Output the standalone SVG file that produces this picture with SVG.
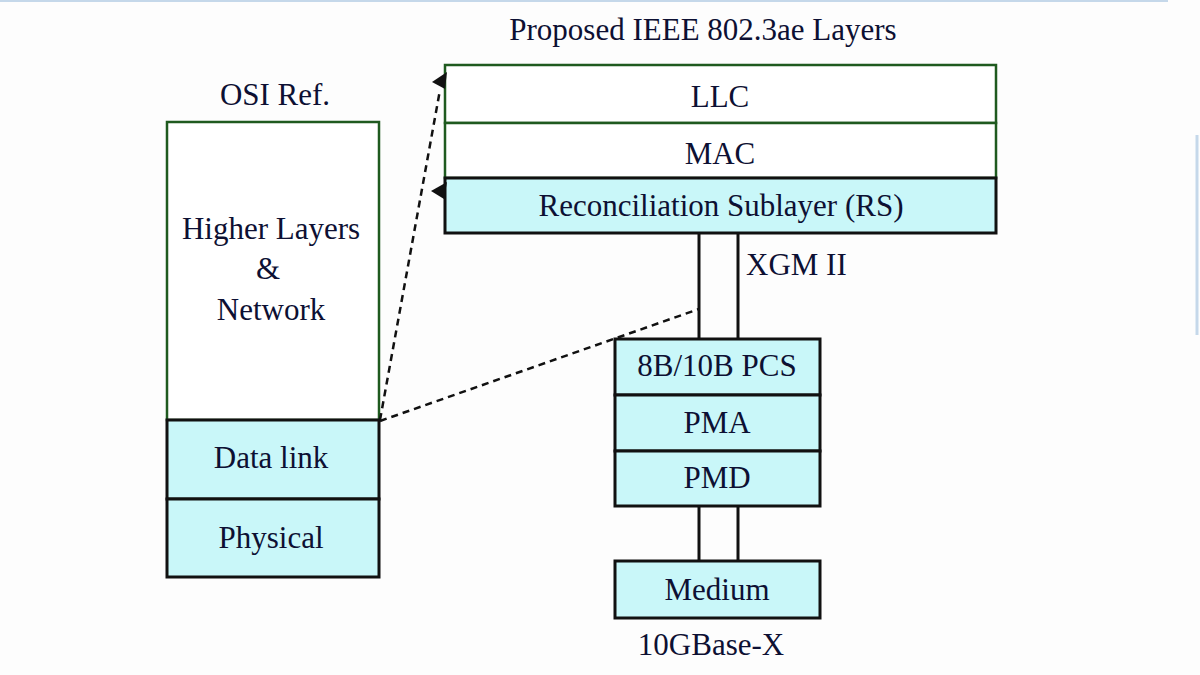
<svg xmlns="http://www.w3.org/2000/svg" width="1200" height="675" viewBox="0 0 1200 675">
<style>
text{font-family:"Liberation Serif","Times New Roman",serif;font-size:31px;fill:#0d1033;text-anchor:middle}
.g{fill:#ffffff;stroke:#1f5a1f;stroke-width:2.5}
.c{fill:#c9f7f9;stroke:#111111;stroke-width:3}
.ln{stroke:#111111;stroke-width:3;fill:none}
.d{stroke:#111111;stroke-width:2.5;fill:none;stroke-dasharray:7 5}
</style>
<rect width="1200" height="675" fill="#fdfdfd"/>
<line x1="0" y1="1" x2="1168" y2="1" stroke="#c5d8ea" stroke-width="2"/>
<line x1="1197" y1="135" x2="1197" y2="335" stroke="#c5d8ea" stroke-width="3"/>
<text x="703" y="40">Proposed IEEE 802.3ae Layers</text>
<text x="275" y="105">OSI Ref.</text>
<g id="higher"><rect class="g" x="167" y="122" width="212" height="298"/><text x="271" y="239">Higher Layers</text><text x="268" y="279">&amp;</text><text x="271" y="320">Network</text></g>
<g id="datalink"><rect class="c" x="167" y="420" width="212" height="79"/><text x="271" y="468">Data link</text></g>
<g id="physical"><rect class="c" x="167" y="499" width="212" height="78"/><text x="271" y="548">Physical</text></g>
<g id="llc"><rect class="g" x="445" y="65" width="551" height="58"/><text x="720" y="107">LLC</text></g>
<g id="mac"><rect class="g" x="445" y="123" width="551" height="55"/><text x="720" y="164">MAC</text></g>
<g id="rs"><rect class="c" x="445" y="178" width="551" height="55"/><text x="721" y="216">Reconciliation Sublayer (RS)</text></g>
<g id="pcs"><rect class="c" x="615" y="339" width="205" height="56"/><text x="717" y="376">8B/10B PCS</text></g>
<g id="pma"><rect class="c" x="615" y="395" width="205" height="56"/><text x="717" y="433">PMA</text></g>
<g id="pmd"><rect class="c" x="615" y="451" width="205" height="55"/><text x="717" y="488">PMD</text></g>
<g id="medium"><rect class="c" x="615" y="561" width="205" height="57"/><text x="717" y="600">Medium</text></g>
<text x="711" y="655">10GBase-X</text>
<text x="746" y="275" style="text-anchor:start">XGM II</text>
<g id="connectors">
<line class="ln" x1="699" y1="233" x2="699" y2="339"/>
<line class="ln" x1="738" y1="233" x2="738" y2="339"/>
<line class="ln" x1="699" y1="506" x2="699" y2="561"/>
<line class="ln" x1="738" y1="506" x2="738" y2="561"/>
<line class="d" x1="380" y1="420" x2="440" y2="90"/>
<line class="d" x1="380" y1="421" x2="699" y2="309"/>
<polygon points="447,72 432,82 445,89" fill="#111"/>
<polygon points="447,182 431,191 444,199" fill="#111"/>
</g>
</svg>
